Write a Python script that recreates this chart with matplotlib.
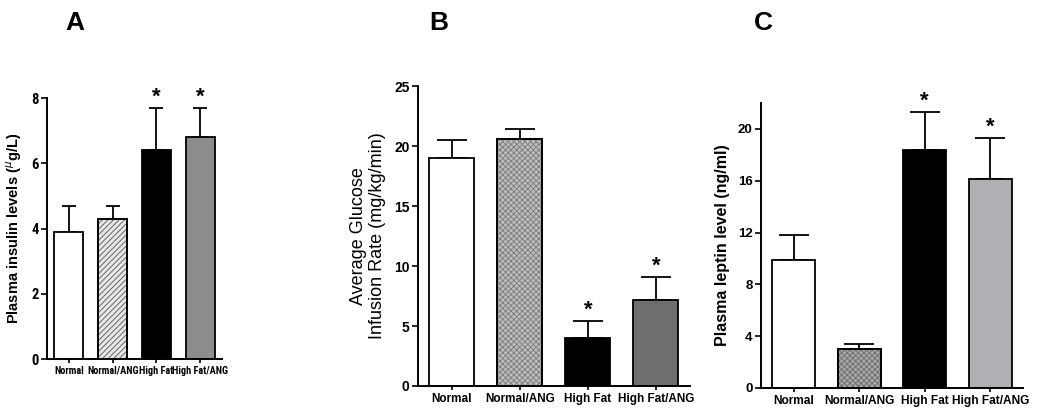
import numpy as np
import matplotlib
matplotlib.use("Agg")
import matplotlib.pyplot as plt

plt.rcParams['font.family'] = ['Liberation Sans', 'DejaVu Sans']
plt.rcParams['hatch.linewidth'] = 0.6

groups = ["Normal", "Normal/ANG", "High Fat", "High Fat/ANG"]
significant = [False, False, True, True]

insulin = [3.9, 4.3, 6.4, 6.8]
insulin_sem = [0.8, 0.4, 1.3, 0.9]

gir = [19.0, 20.6, 4.0, 7.2]
gir_sem = [1.5, 0.8, 1.4, 1.9]

leptin = [9.9, 3.0, 18.4, 16.1]
leptin_sem = [1.9, 0.4, 2.9, 3.2]


def bar_panel(ax, vals, sems, fills, hatch_cols, ylim, yticks, capsize,
              xfont, yfont, narrow=False):
    x = np.arange(len(vals))
    for i in range(len(vals)):
        ax.bar(x[i], vals[i], width=0.66, color=fills[i], edgecolor="black",
               linewidth=1.3, zorder=2)
        if hatch_cols[i] is not None:
            ax.bar(x[i], vals[i], width=0.66, color="none",
                   edgecolor=hatch_cols[i][0], hatch=hatch_cols[i][1],
                   linewidth=0, zorder=3)
            ax.bar(x[i], vals[i], width=0.66, color="none", edgecolor="black",
                   linewidth=1.3, zorder=4)
        ax.errorbar(x[i], vals[i], yerr=[[0], [sems[i]]], color="black",
                    capsize=capsize, capthick=1.3, elinewidth=1.3, zorder=1)
        if significant[i]:
            ax.text(x[i], vals[i] + sems[i], "*", ha="center", va="bottom",
                    fontsize=16, fontweight="bold")
    ax.set_xlim(-0.5, 3.5)
    ax.set_ylim(*ylim)
    ax.set_yticks(yticks)
    ax.set_xticks(x)
    # panel A in the original uses a condensed face
    fam = ['Roboto Condensed', 'Liberation Sans'] if narrow else ['Liberation Sans']
    ax.set_xticklabels(groups, fontsize=xfont, fontweight="bold", family=fam)
    for lab in ax.get_yticklabels():
        lab.set_fontsize(yfont)
        lab.set_fontweight("bold")
        lab.set_family(fam)
    for s in ["top", "right"]:
        ax.spines[s].set_visible(False)
    for s in ["left", "bottom"]:
        ax.spines[s].set_linewidth(1.4)
    ax.tick_params(axis="both", width=1.2, length=4, pad=2)
    ax.tick_params(axis="x", length=3)


fig = plt.figure(figsize=(10.5, 4.2), dpi=100)

axA = fig.add_axes([0.0448, 0.1452, 0.1667, 0.6214])
bar_panel(axA, insulin, insulin_sem,
          ["white", "#e6e6e6", "black", "#8c8c8c"],
          [None, ("#555555", "//////"), None, None],
          (0, 8), [0, 2, 4, 6, 8], 5, 7.4, 10.5, narrow=True)
axA.set_ylabel("Plasma insulin levels ($^{\\mu}$g/L)", fontsize=10.5,
               fontweight="bold", labelpad=5)

axB = fig.add_axes([0.398, 0.081, 0.259, 0.714])
bar_panel(axB, gir, gir_sem,
          ["white", "#bdbdbd", "black", "#6e6e6e"],
          [None, ("#7a7a7a", "xxxxxx"), None, None],
          (0, 25), [0, 5, 10, 15, 20, 25], 11, 8.5, 10)
axB.set_ylabel("Average Glucose\nInfusion Rate (mg/kg/min)", fontsize=13,
               labelpad=6, linespacing=1.1)

axC = fig.add_axes([0.7248, 0.0762, 0.2495, 0.6786])
bar_panel(axC, leptin, leptin_sem,
          ["white", "#a8a8a8", "black", "#b0b0b4"],
          [None, ("#6a6a6a", "xxxxxx"), None, None],
          (0, 22), [0, 4, 8, 12, 16, 20], 11, 8.6, 9.5)
axC.set_ylabel("Plasma leptin level (ng/ml)", fontsize=11.5,
               fontweight="bold", labelpad=6)

fig.text(75 / 1050, 1 - 23 / 420, "A", fontsize=19, fontweight="bold",
         ha="center", va="center")
fig.text(439 / 1050, 1 - 23 / 420, "B", fontsize=19, fontweight="bold",
         ha="center", va="center")
fig.text(763 / 1050, 1 - 23 / 420, "C", fontsize=19, fontweight="bold",
         ha="center", va="center")

fig.savefig("out.png", dpi=100)
